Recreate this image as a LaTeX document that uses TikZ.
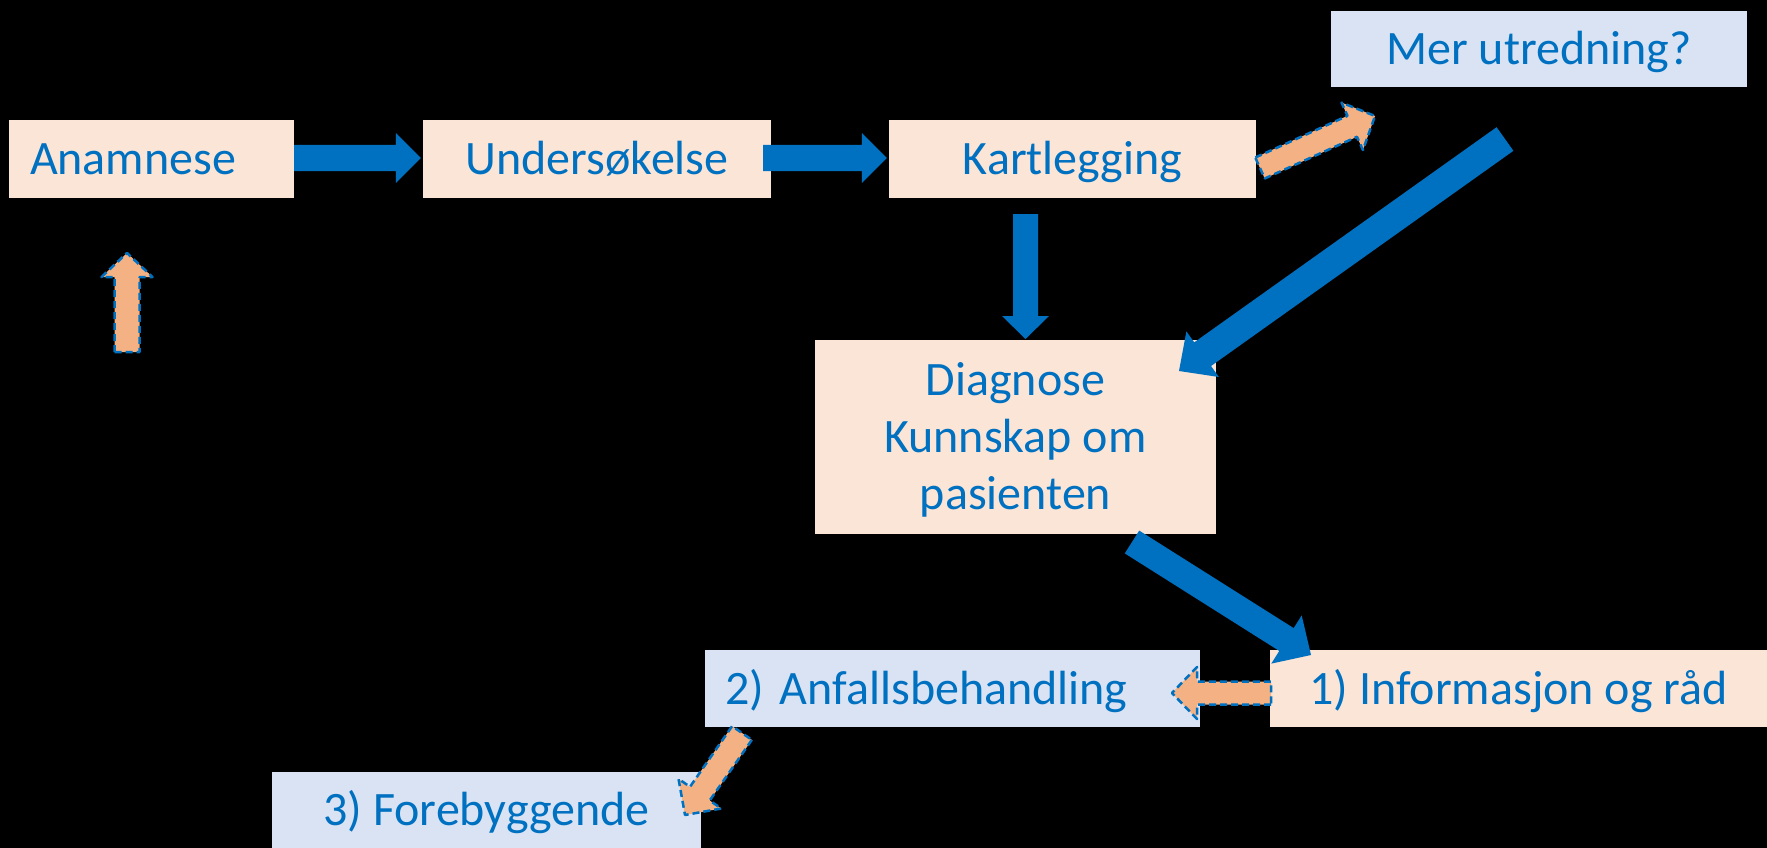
\documentclass[tikz,border=0pt]{standalone}
\usepackage{fontspec}
\setmainfont{Carlito}
\usetikzlibrary{calc}
\definecolor{peach}{HTML}{FBE5D6}
\definecolor{paleblue}{HTML}{DAE3F3}
\definecolor{txtblue}{HTML}{0070C0}
\definecolor{arrblue}{HTML}{0070C0}
\definecolor{orarr}{HTML}{F4B183}
\tikzset{
  box/.style={rectangle, inner sep=0pt, text=txtblue, font=\fontsize{48}{57}\selectfont, align=center, text height=31pt, text depth=0pt},
  peachbox/.style={box, fill=peach},
  bluebox/.style={box, fill=paleblue},
  bluearrow/.style={fill=arrblue},
  orangearrow/.style={fill=orarr, draw=arrblue, line width=2.5pt, dash pattern=on 7pt off 4pt, line join=round}
}
\newcommand\blkarrow[6]{%
  \coordinate (hb) at ($(#3)!#6!(#2)$);
  \path[#1] ($(#2)!#4!90:(#3)$) -- ($(hb)!#4!90:(#3)$) -- ($(hb)!#5!90:(#3)$) -- (#3)
    -- ($(hb)!#5!-90:(#3)$) -- ($(hb)!#4!-90:(#3)$) -- ($(#2)!#4!-90:(#3)$) -- cycle;
}
\begin{document}
\begin{tikzpicture}[x=1pt,y=-1pt]
\fill[black] (0,0) rectangle (1767,848);
\useasboundingbox (0,0) rectangle (1767,848);

\node[peachbox, minimum height=78pt, text width=243pt, inner xsep=21pt, align=left] (ana) at (151.5,159) {Anamnese};
\node[peachbox, minimum width=348pt, minimum height=78pt] (und) at (597,159) {Undersøkelse};
\node[peachbox, minimum width=367pt, minimum height=78pt] (kart) at (1072.5,159) {Kartlegging};
\node[bluebox, minimum width=416pt, minimum height=76pt] (mer) at (1539,49) {Mer utredning?};
\node[peachbox, minimum width=401pt, minimum height=194pt, text height=144pt, text depth=0pt] (diag) at (1015.5,437) {Diagnose\\Kunnskap om\\pasienten};
\node[peachbox, minimum width=497pt, minimum height=77pt] (info) at (1518.5,688.5) {1) Informasjon og råd};
\node[bluebox, minimum height=77pt, text width=455pt, inner xsep=20pt, align=left] (anf) at (952.5,688.5) {2) Anfallsbehandling};
\node[bluebox, minimum width=429pt, minimum height=76pt] (fore) at (486.5,810) {3) Forebyggende};

% named free ends
\coordinate (a1s) at ([yshift=1pt]ana.east);
\coordinate (a1t) at ([xshift=-2pt,yshift=1pt]und.west);
\coordinate (a2s) at ([xshift=-8pt,yshift=1pt]und.east);
\coordinate (a2t) at ([xshift=-2pt,yshift=1pt]kart.west);
\coordinate (a3s) at (1025.5,214);
\coordinate (a3t) at (1025.5,339);
\coordinate (a4s) at (1505,139);
\coordinate (a4t) at (1179,371);
\coordinate (a5s) at (1132,542);
\coordinate (a5t) at (1311,655);
\coordinate (o1s) at (1260,168);
\coordinate (o1t) at (1375,116);
\coordinate (o2s) at (127,352);
\coordinate (o2t) at (127,253);
\coordinate (o3s) at (1271,693);
\coordinate (o3t) at (1172,693);
\coordinate (o4s) at (742,733);
\coordinate (o4t) at (685,815);

\blkarrow{bluearrow}{a1s}{a1t}{13pt}{25pt}{25pt}
\blkarrow{bluearrow}{a2s}{a2t}{13pt}{25pt}{25pt}
\blkarrow{bluearrow}{a3s}{a3t}{12.5pt}{23.5pt}{23pt}
\blkarrow{bluearrow}{a4s}{a4t}{14.5pt}{28pt}{29pt}
\blkarrow{bluearrow}{a5s}{a5t}{13.5pt}{28.5pt}{29pt}
\blkarrow{orangearrow}{o1s}{o1t}{11.5pt}{26pt}{25pt}
\blkarrow{orangearrow}{o2s}{o2t}{12.5pt}{25.5pt}{24pt}
\blkarrow{orangearrow}{o3s}{o3t}{11.5pt}{26pt}{25pt}
\blkarrow{orangearrow}{o4s}{o4t}{12pt}{26pt}{26pt}
\end{tikzpicture}
\end{document}
